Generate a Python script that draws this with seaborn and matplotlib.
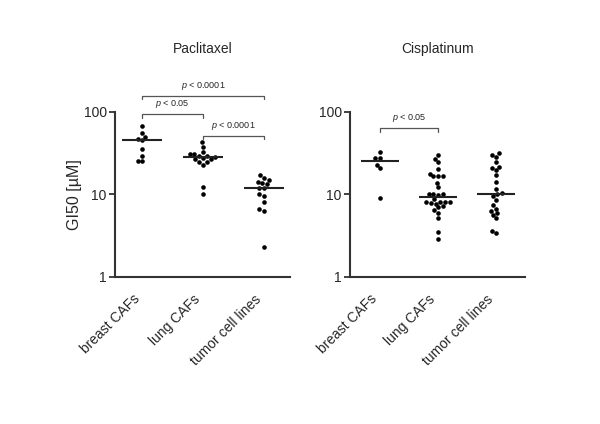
import numpy as np
import pandas as pd
import matplotlib
matplotlib.use("Agg")
import matplotlib.pyplot as plt
import seaborn as sns

categories = ["breast CAFs", "lung CAFs", "tumor cell lines"]
panel_titles = ["Paclitaxel", "Cisplatinum"]

pac_breast = [67.8, 54.9, 49.9, 46.8, 45.0, 35.4, 29.1, 25.3, 25.3]
pac_lung = [42.7, 37.8, 32.3, 30.5, 30.5, 29.3, 29.1, 28.6, 27.3, 26.5, 26.5,
            24.8, 24.4, 22.7, 12.2, 10.1]
pac_tumor = [17.1, 15.9, 14.9, 14.2, 13.6, 13.2, 12.0, 12.0, 10.0, 9.5, 8.1,
             6.6, 6.3, 2.3]
cis_breast = [32.5, 27.5, 27.5, 22.6, 20.5, 9.1]
cis_lung = [29.9, 27.0, 24.6, 20.4, 17.8, 16.4, 16.4, 16.4, 13.8, 12.2, 10.1,
            10.1, 10.1, 9.9, 8.7, 8.1, 8.1, 8.1, 8.1, 7.9, 7.7, 7.2, 6.9, 6.4,
            6.0, 5.1, 3.5, 2.84]
cis_tumor = [31.4, 29.6, 28.2, 24.8, 21.4, 20.5, 19.5, 17.0, 14.2, 11.5, 10.2,
             10.0, 9.4, 8.5, 7.4, 6.7, 6.3, 5.9, 5.6, 5.1, 3.6, 3.35]

# significance annotations: (group a, group b, bracket height, label)
pac_sig = [(0, 2, 156, "p < 0.0001"), (0, 1, 93, "p < 0.05"), (1, 2, 51.2, "p < 0.0001")]
cis_sig = [(0, 1, 63, "p < 0.05")]

ytick_vals = [1, 10, 100]
ytick_labels = ["1", "10", "100"]

sns.set_theme(style="white")
plt.rcParams["font.family"] = ["Liberation Sans", "DejaVu Sans"]
plt.rcParams["mathtext.fontset"] = "custom"
plt.rcParams["mathtext.it"] = "Liberation Sans:italic"
plt.rcParams["mathtext.rm"] = "Liberation Sans"

fig = plt.figure(figsize=(6.0, 4.24), dpi=100)
ax1 = fig.add_axes([115 / 600, 1 - 276.7 / 424, 175 / 600, 165 / 424])
ax2 = fig.add_axes([350 / 600, 1 - 276.7 / 424, 175 / 600, 165 / 424])

panels = [
    (ax1, [pac_breast, pac_lung, pac_tumor], pac_sig, panel_titles[0], (-0.45, 2.43)),
    (ax2, [cis_breast, cis_lung, cis_tumor], cis_sig, panel_titles[1], (-0.52, 2.5)),
]

spine_col = "#333333"
for ax, groups, sigs, title, xl in panels:
    df = pd.DataFrame({
        "group": np.concatenate([[c] * len(g) for c, g in zip(categories, groups)]),
        "value": np.concatenate(groups),
    })
    ax.set_yscale("log")
    sns.swarmplot(data=df, x="group", y="value", order=categories, ax=ax,
                  color="black", size=3.3, linewidth=0)
    for i, g in enumerate(groups):
        m = np.median(g)
        ax.hlines(m, i - 0.33, i + 0.33, color="#222222", lw=1.5, zorder=3)
    ax.set_ylim(1, 100)
    ax.set_xlim(*xl)
    ax.set_yticks(ytick_vals)
    ax.set_yticklabels(ytick_labels, fontsize=10)
    ax.yaxis.set_minor_locator(matplotlib.ticker.NullLocator())
    ax.set_xlabel("")
    ax.set_ylabel("")
    ax.set_xticks(range(len(categories)))
    ax.set_xticklabels(categories, rotation=45, ha="right", fontsize=10)
    ax.tick_params(axis="x", length=0, pad=11)
    ax.tick_params(axis="y", length=4, width=1.3, color=spine_col, pad=2, left=True)
    for s in ["top", "right"]:
        ax.spines[s].set_visible(False)
    for s in ["left", "bottom"]:
        ax.spines[s].set_color(spine_col)
        ax.spines[s].set_linewidth(1.5)
    ax.set_title(title, fontsize=10, pad=42)
    for a, b, y, lab in sigs:
        drop = y / 10 ** 0.045
        ax.plot([a, a, b, b], [drop, y, y, drop], color="#555555", lw=0.9,
                clip_on=False)
        txt = "$p$" + lab[1:]
        ax.annotate(txt, xy=((a + b) / 2, y), xytext=(0, 3),
                    textcoords="offset points", ha="center", va="bottom",
                    fontsize=6.5, annotation_clip=False)

ax1.set_ylabel("GI50 [µM]", fontsize=11.5, labelpad=1)

fig.savefig("out.png", dpi=100)
